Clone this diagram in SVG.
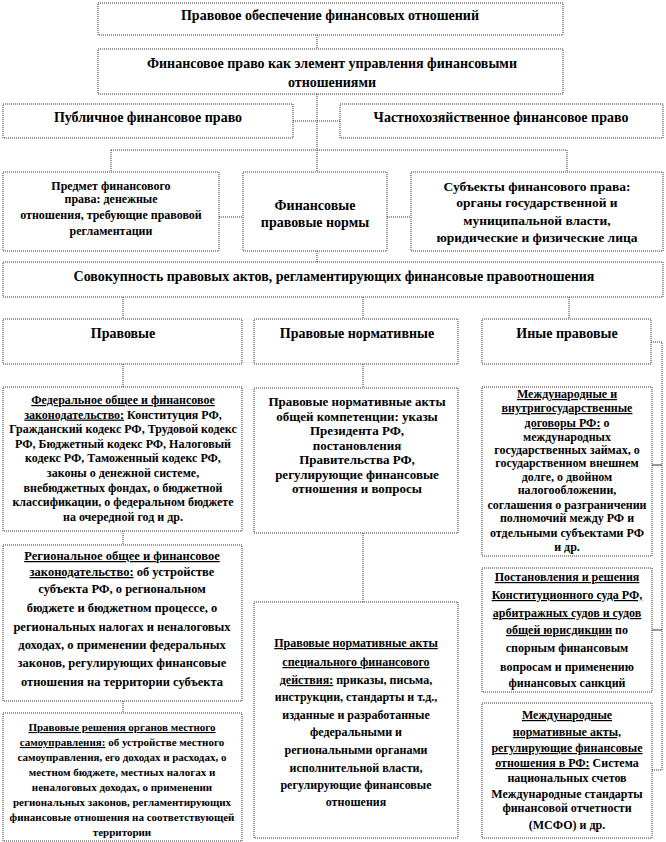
<svg xmlns="http://www.w3.org/2000/svg" width="666" height="842" viewBox="0 0 666 842">
<style>
.b{fill:#fff;stroke:#333;stroke-width:1;stroke-dasharray:1 1}
.c{fill:none;stroke:#333;stroke-width:1;stroke-dasharray:1 1}
.s{fill:none;stroke:#333;stroke-width:1}
text{font-family:"Liberation Serif","Times New Roman",serif;font-weight:bold;text-anchor:middle;fill:#000}
.f14{font-size:14px}
.f13{font-size:13.5px}
.f13b{font-size:13px}
.f12{font-size:12px}
.f125{font-size:12.5px}
.f11{font-size:11px}
.u{text-decoration:underline}
</style>
<rect width="666" height="842" fill="#fff"/>
<g id="connectors">
<path class="c" d="M317 35V49M317 94V150M293 121H340M111 150H567M111 150V172M317 150V172M567 150V172"/>
<path class="c" d="M219 217H243M387 217H411M317 251V262"/>
<path class="c" d="M123 297V319M363 297V319M569 297V319"/>
<path class="c" d="M123 364V387M123 531V545M123 701V713M363 364V388M363 533V602"/>
<path class="c" d="M651 342H662V770H652"/>
<path class="s" d="M652 465H662M652 630H662"/>
</g>
<g id="n1"><rect class="b" x="98" y="3" width="465" height="32"/>
<text class="f14" x="330" y="20">Правовое обеспечение финансовых отношений</text></g>
<g id="n2"><rect class="b" x="98" y="49" width="465" height="45"/>
<text class="f14" x="332" y="68">Финансовое право как элемент управления финансовыми</text>
<text class="f14" x="332" y="87">отношениями</text></g>
<g id="n3"><rect class="b" x="3" y="104" width="290" height="34"/>
<text class="f14" x="148" y="122">Публичное финансовое право</text></g>
<g id="n4"><rect class="b" x="340" y="104" width="323" height="34"/>
<text class="f14" x="501" y="122">Частнохозяйственное финансовое право</text></g>
<g id="n5"><rect class="b" x="3" y="172" width="216" height="79"/>
<text class="f12" x="111" y="190">Предмет финансового</text>
<text class="f12" x="111" y="203">права: денежные</text>
<text class="f12" x="111" y="219">отношения, требующие правовой</text>
<text class="f12" x="111" y="235">регламентации</text></g>
<g id="n6"><rect class="b" x="243" y="172" width="144" height="79"/>
<text class="f14" x="315" y="210">Финансовые</text>
<text class="f14" x="315" y="227">правовые нормы</text></g>
<g id="n7"><rect class="b" x="411" y="172" width="252" height="79"/>
<text class="f13" x="537" y="191">Субъекты финансового права:</text>
<text class="f13" x="537" y="207">органы государственной и</text>
<text class="f13" x="537" y="225">муниципальной  власти,</text>
<text class="f13" x="537" y="242">юридические и физические лица</text></g>
<g id="n8"><rect class="b" x="3" y="262" width="660" height="35"/>
<text class="f14" x="334" y="281">Совокупность правовых актов, регламентирующих финансовые правоотношения</text></g>
<g id="n9"><rect class="b" x="3" y="319" width="239" height="45"/>
<text class="f14" x="123" y="338">Правовые</text></g>
<g id="n10"><rect class="b" x="254" y="319" width="204" height="45"/>
<text class="f14" x="357" y="338">Правовые нормативные</text></g>
<g id="n11"><rect class="b" x="482" y="319" width="169" height="45"/>
<text class="f14" x="567" y="338">Иные правовые</text></g>
<g id="n12"><rect class="b" x="3" y="387" width="239" height="144"/>
<text class="f12" x="123" y="404"><tspan class="u">Федеральное общее и финансовое</tspan></text>
<text class="f12" x="123" y="418.6"><tspan class="u">законодательство:</tspan> Конституция РФ,</text>
<text class="f12" x="123" y="433.2">Гражданский кодекс РФ, Трудовой кодекс</text>
<text class="f12" x="123" y="447.8">РФ, Бюджетный  кодекс РФ, Налоговый</text>
<text class="f12" x="123" y="462.4">кодекс РФ, Таможенный  кодекс РФ,</text>
<text class="f12" x="123" y="477">законы о денежной  системе,</text>
<text class="f12" x="123" y="491.6">внебюджетных  фондах,  о бюджетной</text>
<text class="f12" x="123" y="506.2">классификации,  о федеральном бюджете</text>
<text class="f12" x="123" y="520.8">на очередной год и др.</text></g>
<g id="n13"><rect class="b" x="3" y="545" width="239" height="156"/>
<text class="f125" x="122" y="560"><tspan class="u">Региональное общее и финансовое</tspan></text>
<text class="f125" x="122" y="576"><tspan class="u">законодательство:</tspan>  об устройстве</text>
<text class="f125" x="122" y="593">субъекта РФ, о региональном</text>
<text class="f125" x="122" y="612">бюджете  и бюджетном процессе, о</text>
<text class="f125" x="122" y="631">региональных  налогах  и неналоговых</text>
<text class="f125" x="122" y="649">доходах,   о применении федеральных</text>
<text class="f125" x="122" y="667">законов, регулирующих  финансовые</text>
<text class="f125" x="122" y="686">отношения на территории субъекта</text></g>
<g id="n14"><rect class="b" x="3" y="713" width="239" height="128"/>
<text class="f11" x="122" y="731"><tspan class="u">Правовые решения органов местного</tspan></text>
<text class="f11" x="122" y="746"><tspan class="u">самоуправления:</tspan> об устройстве местного</text>
<text class="f11" x="122" y="761">самоуправления, его доходах и расходах, о</text>
<text class="f11" x="122" y="776">местном бюджете,  местных налогах и</text>
<text class="f11" x="122" y="791">неналоговых доходах, о применении</text>
<text class="f11" x="122" y="806">региональных законов,  регламентирующих</text>
<text class="f11" x="122" y="821">финансовые  отношения на соответствующей</text>
<text class="f11" x="122" y="836">территории</text></g>
<g id="n15"><rect class="b" x="254" y="388" width="204" height="145"/>
<text class="f13b" x="357" y="406">Правовые нормативные  акты</text>
<text class="f13b" x="357" y="420.5">общей компетенции:  указы</text>
<text class="f13b" x="357" y="435">Президента РФ,</text>
<text class="f13b" x="357" y="449.5">постановления</text>
<text class="f13b" x="357" y="464">Правительства РФ,</text>
<text class="f13b" x="357" y="478.5">регулирующие  финансовые</text>
<text class="f13b" x="357" y="493">отношения  и вопросы</text></g>
<g id="n16"><rect class="b" x="254" y="602" width="204" height="236"/>
<text class="f12" x="356" y="647"><tspan class="u">Правовые нормативные акты</tspan></text>
<text class="f12" x="356" y="666"><tspan class="u">специального финансового</tspan></text>
<text class="f12" x="356" y="684"><tspan class="u">действия:</tspan>  приказы, письма,</text>
<text class="f12" x="356" y="701">инструкции,  стандарты и т.д.,</text>
<text class="f12" x="356" y="719">изданные  и разработанные</text>
<text class="f12" x="356" y="736">федеральными и</text>
<text class="f12" x="356" y="754">региональными органами</text>
<text class="f12" x="356" y="772">исполнительной  власти,</text>
<text class="f12" x="356" y="789">регулирующие  финансовые</text>
<text class="f12" x="356" y="806">отношения</text></g>
<g id="n17"><rect class="b" x="482" y="387" width="170" height="169"/>
<text class="f12" x="567" y="398"><tspan class="u">Международные и</tspan></text>
<text class="f12" x="567" y="412"><tspan class="u">внутригосударственные</tspan></text>
<text class="f12" x="567" y="427"><tspan class="u">договоры РФ:</tspan>  о</text>
<text class="f12" x="567" y="441">международных</text>
<text class="f12" x="567" y="454">государственных  займах, о</text>
<text class="f12" x="567" y="467">государственном внешнем</text>
<text class="f12" x="567" y="481">долге, о двойном</text>
<text class="f12" x="567" y="494">налогообложении,</text>
<text class="f12" x="567" y="509">соглашения о разграничении</text>
<text class="f12" x="567" y="522">полномочий между РФ и</text>
<text class="f12" x="567" y="537">отдельными  субъектами РФ</text>
<text class="f12" x="567" y="551">и др.</text></g>
<g id="n18"><rect class="b" x="482" y="568" width="170" height="124"/>
<text class="f12" x="567" y="581"><tspan class="u">Постановления и решения</tspan></text>
<text class="f12" x="567" y="599"><tspan class="u">Конституционного  суда РФ,</tspan></text>
<text class="f12" x="567" y="617"><tspan class="u">арбитражных  судов и судов</tspan></text>
<text class="f12" x="567" y="634"><tspan class="u">общей юрисдикции</tspan> по</text>
<text class="f12" x="567" y="652">спорным финансовым</text>
<text class="f12" x="567" y="671">вопросам и применению</text>
<text class="f12" x="567" y="687">финансовых  санкций</text></g>
<g id="n19"><rect class="b" x="482" y="703" width="170" height="135"/>
<text class="f12" x="567" y="719"><tspan class="u">Международные</tspan></text>
<text class="f12" x="567" y="736"><tspan class="u">нормативные  акты,</tspan></text>
<text class="f12" x="567" y="752"><tspan class="u">регулирующие финансовые</tspan></text>
<text class="f12" x="567" y="767"><tspan class="u">отношения  в РФ:</tspan> Система</text>
<text class="f12" x="567" y="782">национальных  счетов</text>
<text class="f12" x="567" y="798">Международные стандарты</text>
<text class="f12" x="567" y="812">финансовой  отчетности</text>
<text class="f12" x="567" y="829">(МСФО) и др.</text></g>
</svg>
